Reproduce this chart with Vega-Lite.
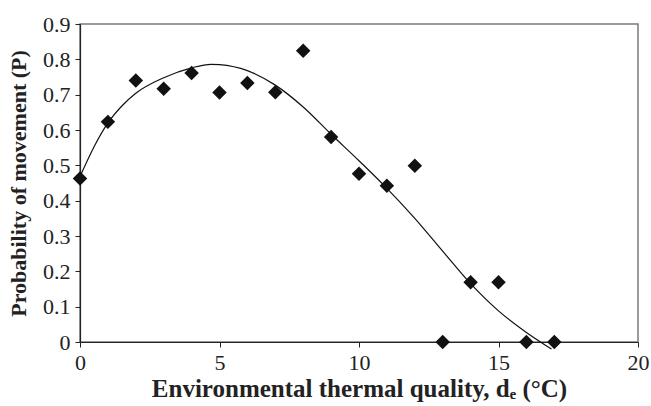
{
  "$schema": "https://vega.github.io/schema/vega-lite/v6.json",
  "width": 558,
  "height": 318,
  "autosize": {"type": "none"},
  "padding": {"left": 80, "top": 24, "right": 13, "bottom": 64},
  "background": "white",
  "config": {
    "view": {"stroke": "#7a7a7a", "strokeWidth": 1.5},
    "font": "Liberation Serif",
    "axis": {"labelFont": "Liberation Serif", "labelFontSize": 22, "labelColor": "#222"}
  },
  "datasets": {
    "obs": [
      {"d": 0, "p": 0.463},
      {"d": 1, "p": 0.623},
      {"d": 2, "p": 0.740},
      {"d": 3, "p": 0.717},
      {"d": 4, "p": 0.761},
      {"d": 5, "p": 0.706},
      {"d": 6, "p": 0.733},
      {"d": 7, "p": 0.707},
      {"d": 8, "p": 0.824},
      {"d": 9, "p": 0.580},
      {"d": 10, "p": 0.476},
      {"d": 11, "p": 0.442},
      {"d": 12, "p": 0.499},
      {"d": 13, "p": 0},
      {"d": 14, "p": 0.169},
      {"d": 15, "p": 0.169},
      {"d": 16, "p": 0},
      {"d": 17, "p": 0}
    ],
    "fit": [
      {"d": 0, "p": 0.468},
      {"d": 0.5, "p": 0.552},
      {"d": 1, "p": 0.620},
      {"d": 1.5, "p": 0.668},
      {"d": 2, "p": 0.704},
      {"d": 3, "p": 0.748},
      {"d": 4, "p": 0.776},
      {"d": 4.7, "p": 0.786},
      {"d": 5, "p": 0.785},
      {"d": 6, "p": 0.768},
      {"d": 7, "p": 0.727},
      {"d": 8, "p": 0.665},
      {"d": 9, "p": 0.588},
      {"d": 10, "p": 0.513},
      {"d": 11, "p": 0.435},
      {"d": 12, "p": 0.350},
      {"d": 13, "p": 0.257},
      {"d": 14, "p": 0.165},
      {"d": 15, "p": 0.088},
      {"d": 16, "p": 0.027},
      {"d": 16.9, "p": -0.02}
    ]
  },
  "encoding": {
    "x": {
      "field": "d", "type": "quantitative",
      "scale": {"domain": [0, 20], "nice": false},
      "axis": {
        "values": [0, 5, 10, 15, 20],
        "title": "Environmental thermal quality, dₑ (°C)",
        "grid": false,
        "domainColor": "#222", "domainWidth": 1.2,
        "tickColor": "#222", "tickSize": 5,
        "labelFont": "Liberation Serif", "labelFontSize": 22, "labelColor": "#222",
        "labelOverlap": false, "labelFlush": false,
        "titleFont": "Liberation Serif", "titleFontSize": 25, "titleFontWeight": "bold", "titleColor": "#222",
        "labelPadding": 5, "titlePadding": 3
      }
    },
    "y": {
      "field": "p", "type": "quantitative",
      "scale": {"domain": [0, 0.9], "nice": false, "zero": false},
      "axis": {
        "values": [0, 0.1, 0.2, 0.3, 0.4, 0.5, 0.6, 0.7, 0.8, 0.9],
        "labelExpr": "datum.value == 0 ? '0' : format(datum.value, '.1f')",
        "title": "Probability of movement (P)",
        "grid": false,
        "domainColor": "#222", "domainWidth": 1.2,
        "tickColor": "#222", "tickSize": 5,
        "labelFont": "Liberation Serif", "labelFontSize": 22, "labelColor": "#222",
        "labelOverlap": false, "labelFlush": false,
        "titleFont": "Liberation Serif", "titleFontSize": 22, "titleFontWeight": "bold", "titleColor": "#222",
        "labelPadding": 5,
        "titlePadding": 12
      }
    }
  },
  "layer": [
    {
      "data": {"name": "fit"},
      "mark": {"type": "line", "color": "#111", "strokeWidth": 1.2, "interpolate": "monotone", "clip": false}
    },
    {
      "data": {"name": "obs"},
      "mark": {"type": "point", "shape": "diamond", "filled": true, "color": "#111", "size": 210, "opacity": 1, "clip": false}
    }
  ]
}
